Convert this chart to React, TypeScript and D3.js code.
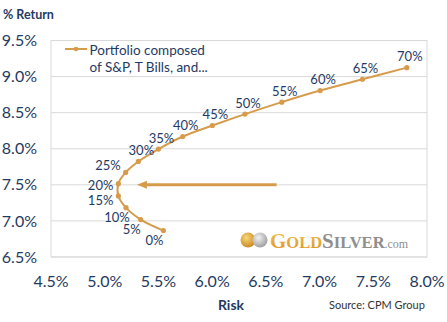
import React from "react";
import * as d3 from "d3";

const weights = ["0%", "5%", "10%", "15%", "20%", "25%", "30%", "35%", "40%", "45%", "50%", "55%", "60%", "65%", "70%"];
const risk = [5.546, 5.335, 5.198, 5.127, 5.127, 5.195, 5.313, 5.5, 5.726, 6.002, 6.306, 6.648, 7.005, 7.399, 7.812];
const ret = [6.866, 7.018, 7.184, 7.346, 7.516, 7.672, 7.824, 7.996, 8.17, 8.322, 8.48, 8.646, 8.806, 8.963, 9.124];
const labelPlacement = ["bl", "bl", "bl", "l", "l", "al", "a", "a", "a", "a", "a", "a", "a", "a", "a"];
const xTicks = [4.5, 5.0, 5.5, 6.0, 6.5, 7.0, 7.5, 8.0];
const yTicks = [6.5, 7.0, 7.5, 8.0, 8.5, 9.0, 9.5];
const arrowFrom = [6.6, 7.5];
const arrowTo = [5.3, 7.5];
const seriesName = ["Portfolio composed", "of S&P, T Bills, and..."];

const W = 447, H = 322;
const M = { left: 51, right: 427, top: 40.5, bottom: 257 };
const LINE = "#D69C4C";
const NAVY = "#1F3A63";
const FONT = "Lato, 'Open Sans', sans-serif";

export default function App() {
  const x = d3.scaleLinear().domain([4.5, 8.0]).range([M.left, M.right]);
  const y = d3.scaleLinear().domain([6.5, 9.5]).range([M.bottom, M.top]);
  const pts: [number, number][] = risk.map((r, i) => [x(r), y(ret[i])]);
  const line = d3.line().curve(d3.curveCatmullRom.alpha(0.5))(pts) || "";

  const ax1 = x(arrowFrom[0]), ay = y(arrowFrom[1]), ax2 = x(arrowTo[0]);

  return (
    <svg width={W} height={H} style={{ position: "absolute", left: 0, top: 0, background: "#fff" }} fontFamily={FONT}>
      <defs>
        <linearGradient id="goldg" x1="0" y1="0" x2="0" y2="1">
          <stop offset="0" stopColor="#F4C860" />
          <stop offset="1" stopColor="#D98E1E" />
        </linearGradient>
        <radialGradient id="coinGold" cx="0.4" cy="0.35" r="0.7">
          <stop offset="0" stopColor="#F8D77A" />
          <stop offset="1" stopColor="#C8861E" />
        </radialGradient>
        <radialGradient id="coinSilver" cx="0.4" cy="0.35" r="0.7">
          <stop offset="0" stopColor="#F2F2F2" />
          <stop offset="1" stopColor="#9A9A9A" />
        </radialGradient>
      </defs>
      {yTicks.map((t) => (
        <line key={"g" + t} x1={M.left} x2={M.right} y1={y(t)} y2={y(t)} stroke="#D9D9D9" strokeWidth={1} />
      ))}
      <rect x={M.left} y={M.top} width={M.right - M.left} height={M.bottom - M.top} fill="none" stroke="#D9D9D9" strokeWidth={1} />

      {yTicks.map((t) => (
        <text key={"yt" + t} x={37} y={y(t)} dy="0.35em" textAnchor="end" fontSize={16} fill={NAVY}>
          {t.toFixed(1) + "%"}
        </text>
      ))}
      {xTicks.map((t) => (
        <text key={"xt" + t} x={x(t)} y={281} dy="0.35em" textAnchor="middle" fontSize={16} fill={NAVY}>
          {t.toFixed(1) + "%"}
        </text>
      ))}
      <text x={3} y={15} dy="0.35em" fontSize={12.5} fontWeight={700} fill={NAVY}>% Return</text>
      <text x={231} y={305} dy="0.35em" textAnchor="middle" fontSize={14} fontWeight={700} fill={NAVY}>Risk</text>
      <text x={329} y={305} dy="0.35em" fontSize={11} fill="#333">Source: CPM Group</text>

      <g>
        <circle cx={248} cy={240} r={7.5} fill="url(#coinGold)" />
        <circle cx={260} cy={240} r={7.5} fill="url(#coinSilver)" />
        <text x={270} y={248} fontFamily="'Liberation Serif', 'DejaVu Serif', serif" fontWeight={700}>
          <tspan fontSize={21} fill="url(#goldg)">G</tspan>
          <tspan fontSize={16.5} fill="url(#goldg)">OLD</tspan>
          <tspan fontSize={21} fill="#8E8E8E">S</tspan>
          <tspan fontSize={16.5} fill="#8E8E8E">ILVER</tspan>
          <tspan fontSize={12} fontWeight={400} fill="#8E8E8E">.com</tspan>
        </text>
      </g>

      <line x1={ax1} x2={ax2 + 8} y1={ay} y2={ay} stroke={LINE} strokeWidth={3} />
      <path d={`M${ax2},${ay} L${ax2 + 10},${ay - 4} L${ax2 + 10},${ay + 4} Z`} fill={LINE} />

      <path d={line} fill="none" stroke={LINE} strokeWidth={2} />
      {pts.map(([px, py], i) => (
        <circle key={"p" + i} cx={px} cy={py} r={2.6} fill={LINE} />
      ))}
      {pts.map(([px, py], i) => {
        const p = labelPlacement[i];
        let tx = px, ty = py, anchor = "middle";
        if (p === "bl") { tx = px - 9; ty = py + 10; }
        else if (p === "l") { tx = px - 5; ty = py + (i === 3 ? 5 : 2); anchor = "end"; }
        else if (p === "al") { tx = px - 5; ty = py - 7; anchor = "end"; }
        else { tx = px + 3; ty = py - 11; }
        return (
          <text key={"l" + i} x={tx} y={ty} dy="0.35em" textAnchor={anchor} fontSize={13} fill={NAVY}>
            {weights[i]}
          </text>
        );
      })}

      <line x1={65} x2={87} y1={49} y2={49} stroke={LINE} strokeWidth={2} />
      <circle cx={76} cy={49} r={2.3} fill={LINE} />
      <text x={89.5} y={50} dy="0.35em" fontSize={13.5} fill={NAVY}>{seriesName[0]}</text>
      <text x={89.5} y={67} dy="0.35em" fontSize={13.5} fill={NAVY}>{seriesName[1]}</text>
    </svg>
  );
}
